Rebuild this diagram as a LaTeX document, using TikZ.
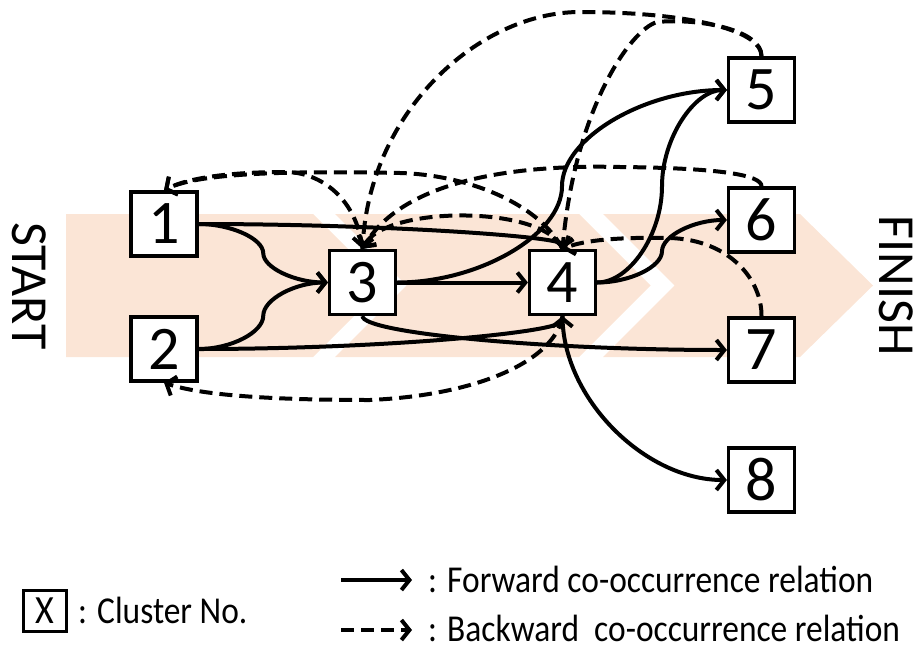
\documentclass[tikz,border=0pt]{standalone}
\usepackage{fontspec}
\setmainfont{Carlito}
\usetikzlibrary{arrows.meta,calc}
\definecolor{band}{HTML}{FBE5D6}
\newcommand\legendtext[1]{\scalebox{0.88}[1]{\fontsize{38}{38}\selectfont #1}}
\begin{document}
\begin{tikzpicture}[x=1pt,y=-1pt,
  cluster/.style={draw, line width=3.2pt, fill=white, minimum width=66pt,
    minimum height=64pt, inner sep=0pt, font=\fontsize{62}{62}\selectfont},
  fwd/.style={line width=4pt, -{Straight Barb[length=8pt,width=20pt]}},
  bwd/.style={fwd, dash pattern=on 13pt off 7pt},
  banner/.style={font=\fontsize{52}{52}\selectfont, rotate=-90, inner sep=0pt},
  % elbow curve: leaves horizontally, arrives vertically
  hv/.style={to path={let \p1=(\tikztostart), \p2=(\tikztotarget) in
    .. controls ({0.5*\x1+0.5*\x2},\y1) and (\x2,{0.5*\y1+0.5*\y2}) .. (\tikztotarget) \tikztonodes}},
  % elbow curve: leaves vertically, arrives horizontally
  vh/.style={to path={let \p1=(\tikztostart), \p2=(\tikztotarget) in
    .. controls (\x1,{0.5*\y1+0.5*\y2}) and ({0.5*\x1+0.5*\x2},\y2) .. (\tikztotarget) \tikztonodes}},
  % S-shaped curve: horizontal at both ends, vertical in the middle
  hs/.style={to path={let \p1=(\tikztostart), \p2=(\tikztotarget) in
    .. controls ({0.75*\x1+0.25*\x2},\y1) and ({0.5*\x1+0.5*\x2},{0.75*\y1+0.25*\y2})
    .. ({0.5*\x1+0.5*\x2},{0.5*\y1+0.5*\y2})
    .. controls ({0.5*\x1+0.5*\x2},{0.25*\y1+0.75*\y2}) and ({0.25*\x1+0.75*\x2},\y2)
    .. (\tikztotarget) \tikztonodes}},
]
\useasboundingbox (0,0) rectangle (918,648);

% process band: three chevrons
\fill[band] (66,214) -- (313,214) -- (384.5,285.5) -- (313,357) -- (66,357) -- cycle;
\fill[band] (335,214) -- (579,214) -- (650.5,285.5) -- (579,357) -- (335,357) -- (406.5,285.5) -- cycle;
\fill[band] (603,214) -- (800,214) -- (873,285.5) -- (800,357) -- (603,357) -- (674.5,285.5) -- cycle;

\node[banner] (start) at (29,286) {START};
\node[banner] (finish) at (896,285.5) {FINISH};

% clusters
\node[cluster] (n1) at (164,224) {1};
\node[cluster] (n2) at (164,349) {2};
\node[cluster] (n3) at (362.5,282.5) {3};
\node[cluster] (n4) at (562.5,282.5) {4};
\node[cluster] (n5) at (761.5,90) {5};
\node[cluster] (n6) at (761.5,220) {6};
\node[cluster] (n7) at (761.5,350) {7};
\node[cluster] (n8) at (761.5,480) {8};

% forward co-occurrence relations
\draw[fwd] (n1.east) to[hs] (n3.west);
\draw[fwd] (n2.east) to[hs] (n3.west);
\draw[fwd] (n1.east) to[hv] (n4.north);
\draw[fwd] (n2.east) to[hv] (n4.south);
\draw[fwd] (n3.east) -- (n4.west);
\draw[fwd] (n3.east) to[hs] (n5.west);
\draw[fwd] (n4.east) to[hs] (n5.west);
\draw[fwd] (n4.east) to[hs] (n6.west);
\draw[fwd] (n3.south) to[vh] (n7.west);
\draw[fwd] (n4.south) to[vh] (n8.west);

% backward co-occurrence relations
\draw[bwd] (n3.north) .. controls (357,200) and (322,172) .. (285,172)
  .. controls (235,172) and (190,177) .. (n1.north);
\draw[bwd] (n4.north) .. controls (540,205) and (470,175) .. (400,173)
  .. controls (300,171) and (200,172) .. (n1.north);
\draw[bwd] (n5.north) .. controls (762,28) and (680,12) .. (580,12)
  .. controls (480,12) and (370,110) .. (n3.north);
\draw[bwd] (n5.north) .. controls (762,30) and (700,18) .. (657,22)
  .. controls (630,30) and (575,110) .. (n4.north);
\draw[bwd] (n6.north) .. controls (762,175) and (720,168) .. (620,167)
  .. controls (500,164) and (400,185) .. (n3.north);
\draw[bwd] (n4.north) .. controls (545,205) and (385,205) .. (n3.north);
\draw[bwd] (n7.north) .. controls (762,280) and (730,240) .. (670,238)
  .. controls (620,237) and (585,240) .. (n4.north);
\draw[bwd] (n4.south) .. controls (555,360) and (480,395) .. (370,400)
  .. controls (270,400) and (200,395) .. (n2.south);

% legend
\node[draw, line width=3pt, minimum width=43pt, minimum height=41pt, inner sep=0pt]
  (key) at (44.5,611) {\scalebox{0.9}[1]{\fontsize{40}{40}\selectfont X}};
\node[anchor=base west, inner sep=0pt] (keytext) at (78,623) {\legendtext{: Cluster No.}};

\coordinate (fa) at (341,580);
\coordinate (fb) at (412,580);
\draw[fwd] (fa) -- (fb);
\node[anchor=base west, inner sep=0pt] (fwdtext) at (428,592) {\legendtext{: Forward co-occurrence relation}};

\coordinate (ba) at (341,630);
\coordinate (bb) at (412,630);
\draw[bwd] (ba) -- (bb);
\node[anchor=base west, inner sep=0pt] (bwdtext) at (428,641) {\legendtext{: Backward\ \ co-occurrence relation}};
\end{tikzpicture}
\end{document}
